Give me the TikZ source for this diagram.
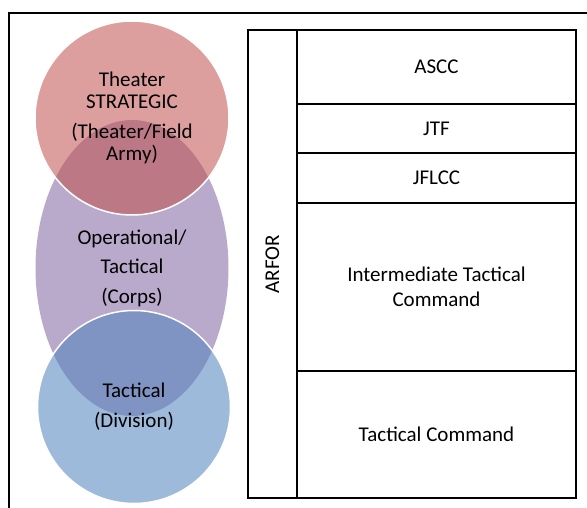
\documentclass[tikz,border=0pt]{standalone}
\usepackage{fontspec}
\setmainfont{Carlito}
\usetikzlibrary{shapes.geometric,positioning}
\definecolor{rojo}{RGB}{192,80,77}
\definecolor{morado}{RGB}{128,100,162}
\definecolor{azul}{RGB}{79,129,189}
\tikzset{
  nivel/.style={fill opacity=0.55, text opacity=1, inner sep=0pt, align=center,
    font=\fontsize{21}{22}\selectfont},
  celda/.style={draw, line width=2pt, minimum width=279pt, inner sep=0pt,
    outer sep=0pt, align=center, font=\fontsize{21}{22}\selectfont},
}

\begin{document}
\begin{tikzpicture}[x=1pt,y=-1pt] % 1 unidad = 1 pixel, y hacia abajo
    \useasboundingbox (0,0) rectangle (587,508);
    \draw[line width=1.5pt] (9,508) -- (9,13) -- (587,13); % Marco
    % Niveles (circulos)
    \node[nivel, ellipse, fill=morado, minimum width=193pt, minimum height=296pt]
      (operacional) at (132,268) {Operational/\\[7.5pt]Tactical\\[7.5pt](Corps)};
    \node[nivel, circle, draw=white, line width=1.5pt, fill=rojo, minimum size=194pt]
      (estrategico) at (132,118) {Theater\\STRATEGIC\\[8pt](Theater/Field\\Army)};
    \node[nivel, circle, draw=white, line width=1.5pt, fill=azul, minimum size=193pt]
      (tactico) at (134,407) {Tactical\\[8pt](Division)};
    % Tabla de mandos
    \node[celda, rotate=90, minimum width=468pt, minimum height=49pt]
      (arfor) at (272.5,264) {ARFOR};
    \node[celda, minimum height=74pt, anchor=north west] (ascc) at (297,30) {ASCC};
    \node[celda, minimum height=49pt, below=0pt of ascc] (jtf) {JTF};
    \node[celda, minimum height=50pt, below=0pt of jtf] (jflcc) {JFLCC};
    \node[celda, minimum height=168pt, below=0pt of jflcc]
      (intermedio) {Intermediate Tactical\\[3pt]Command};
    \node[celda, minimum height=127pt, below=0pt of intermedio] (comando) {Tactical Command};
\end{tikzpicture}
\end{document}
